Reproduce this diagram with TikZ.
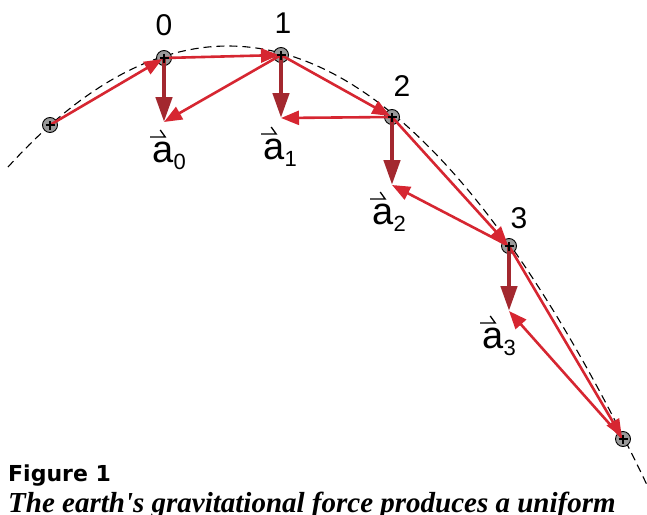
\documentclass[tikz,border=0pt]{standalone}
\usepackage{fontspec}
\setmainfont{Liberation Sans}
\newfontfamily\capfont{Liberation Serif}
\newfontfamily\headfont{DejaVu Sans}
\usetikzlibrary{arrows.meta}
\definecolor{velred}{HTML}{D62631}
\definecolor{accred}{HTML}{A3282F}
\definecolor{dotgray}{HTML}{9A9A9A}
\tikzset{
  pt/.style={circle, draw=black, fill=dotgray, line width=0.9pt,
    minimum size=15pt, inner sep=0pt},
  idx/.style={font=\fontsize{30}{30}\selectfont, inner sep=0pt},
  vlab/.style={font=\fontsize{38}{38}\selectfont, inner sep=0pt},
  vel/.style={-{Triangle[length=18pt, width=14pt]}, velred, line width=2.6pt},
  acc/.style={-{Triangle[length=25pt, width=16pt]}, accred, line width=4.5pt},
  harp/.style={line width=1.3pt, line join=miter},
  trail/.style={dash pattern=on 8pt off 5pt, line width=1.1pt}
}
\newcommand\avec[1]{a\rlap{\raisebox{-7pt}{\fontsize{22}{22}\selectfont #1}}}

\begin{document}
\begin{tikzpicture}[x=1pt, y=-1pt]
\useasboundingbox (0,0) rectangle (647,514);

% Trajectory (dashed parabola)
\draw[trail] plot[domain=8:647, samples=90] (\x, {46+(0.05*(\x-228))^2});

% Positions
\node[pt] (pm) at (50,125)  {};
\node[pt] (p0) at (164,58)  {};
\node[pt] (p1) at (281,55)  {};
\node[pt] (p2) at (392,117) {};
\node[pt] (p3) at (509,246) {};
\node[pt] (p4) at (623,439) {};

% Tips of the acceleration vectors
\coordinate (t0) at (164,122);
\coordinate (t1) at (281,118);
\coordinate (t2) at (392,185);
\coordinate (t3) at (509,311);

% Velocities
\foreach \a/\b in {pm/p0, p0/p1, p1/p2, p2/p3, p3/p4} {
  \draw[vel, shorten >=2pt] (\a.center) -- (\b.center);
}

% Accelerations
\foreach \p/\t in {p0/t0, p1/t1, p2/t2, p3/t3} {
  \draw[acc] (\p.center) -- (\t);
}
\foreach \p/\t in {p1/t0, p2/t1, p3/t2, p4/t3} {
  \draw[vel] (\p.center) -- (\t);
}

% Crosses on the positions
\foreach \p in {pm, p0, p1, p2, p3, p4} {
  \draw[line width=1.3pt] ([xshift=-4.5pt]\p.center) -- ([xshift=4.5pt]\p.center)
    ([yshift=-4.5pt]\p.center) -- ([yshift=4.5pt]\p.center);
}

% Step numbers
\node[idx] (n0) at (164,25) {0};
\node[idx] (n1) at (283,23) {1};
\node[idx] (n2) at (402,86) {2};
\node[idx] (n3) at (519,218) {3};

% Vector labels
\node[vlab] (a0) at (163,156) {\avec{0}};
\node[vlab] (a1) at (274,153) {\avec{1}};
\node[vlab] (a2) at (383,218) {\avec{2}};
\node[vlab] (a3) at (493,342) {\avec{3}};
\foreach \n in {0,...,3} {
  \draw[harp] ([xshift=-2pt, yshift=5pt]a\n.north west) -- ++(15,0) -- ++(-5,-7);
}

% Caption
\node[anchor=base west, inner sep=0pt, font=\headfont\bfseries\fontsize{22}{22}\selectfont]
  (fig) at (8,481) {Figure 1};
\node[anchor=base west, inner sep=0pt, font=\capfont\bfseries\itshape\fontsize{29}{29}\selectfont]
  (cap) at (8,512) {The earth\textquotesingle s gravitational force produces a uniform};

\end{tikzpicture}
\end{document}
